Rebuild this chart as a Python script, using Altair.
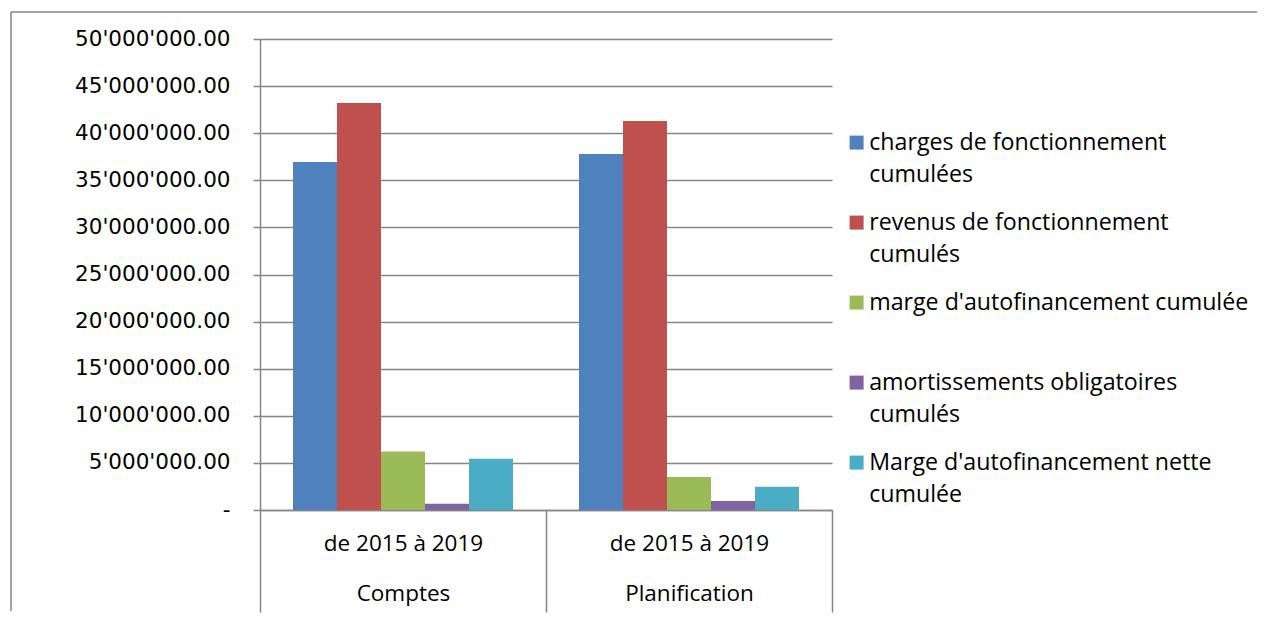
import json
import altair as alt
import pandas as pd

groups = ["Comptes", "Planification"]
period = "de 2015 à 2019"
series = [
    "charges de fonctionnement cumulées",
    "revenus de fonctionnement cumulés",
    "marge d'autofinancement cumulée",
    "amortissements obligatoires cumulés",
    "Marge d'autofinancement nette cumulée",
]
legend_lines = [
    ["charges de fonctionnement", "cumulées"],
    ["revenus de fonctionnement", "cumulés"],
    ["marge d'autofinancement cumulée", ""],
    ["amortissements obligatoires", "cumulés"],
    ["Marge d'autofinancement nette", "cumulée"],
]
comptes = [36950000, 43200000, 6200000, 670000, 5430000]
planification = [37800000, 41300000, 3500000, 950000, 2480000]
colors = ["#4F81BD", "#C0504D", "#9BBB59", "#8064A2", "#4BACC6"]
y_ticks = [0, 5000000, 10000000, 15000000, 20000000, 25000000,
           30000000, 35000000, 40000000, 45000000, 50000000]

rows = []
for g, vals in zip(groups, [comptes, planification]):
    for s, v in zip(series, vals):
        rows.append({"groupe": g, "serie": s, "valeur": v})
df = pd.DataFrame(rows)

GRAY = "#868686"

# legend label expression (multi-line)
expr = ""
for s, lines in zip(series, legend_lines):
    expr += f"datum.label == {json.dumps(s, ensure_ascii=False)} ? {json.dumps(lines, ensure_ascii=False)} : "
expr += "datum.label"

bars = alt.Chart(df).mark_bar().encode(
    x=alt.X("groupe:N", sort=groups, title=None,
            scale=alt.Scale(paddingInner=0, paddingOuter=0),
            axis=alt.Axis(
                labelExpr=f"datum.label ? [{json.dumps(period, ensure_ascii=False)}, datum.label] : ''",
                labelAngle=0, labelFont="Open Sans", labelFontSize=22.5,
                labelColor="#000000", labelLineHeight=50, labelBaseline="top",
                tickBand="extent", tickSize=102, tickColor=GRAY, tickWidth=1.5,
                labelPadding=-80, domainColor=GRAY, domainWidth=1.5, grid=False)),
    xOffset=alt.XOffset("serie:N", sort=series,
                        scale=alt.Scale(paddingInner=0, paddingOuter=0.75)),
    y=alt.Y("valeur:Q", title=None,
            scale=alt.Scale(domain=[0, 50000000], nice=False),
            axis=alt.Axis(values=y_ticks,
                          labelExpr="datum.value == 0 ? '-\u00a0\u00a0' : replace(format(datum.value, ',.2f'), regexp(',', 'g'), \"'\")",
                          labelFont="DejaVu Sans", labelFontSize=21.5, labelColor="#000000",
                          labelPadding=23, tickSize=7, tickColor=GRAY, tickWidth=1.5,
                          domainColor=GRAY, domainWidth=1.5,
                          gridColor=GRAY, gridWidth=1.5)),
    color=alt.Color("serie:N", sort=series, title=None,
                    scale=alt.Scale(domain=series, range=colors),
                    legend=alt.Legend(orient="none", legendX=585, legendY=92,
                                      symbolType="square", symbolSize=196,
                                      symbolStrokeWidth=0, labelFont="Open Sans",
                                      labelFontSize=23.2, labelColor="#000000",
                                      labelOffset=1, rowPadding=24, labelLimit=500,
                                      labelExpr=expr, padding=0)),
)

frame_data = pd.DataFrame({"k": [0]})
frame_v = alt.Chart(frame_data).mark_rule(color=GRAY, strokeWidth=1.5).encode(
    x=alt.value(-249), y=alt.value(-27), y2=alt.value(572))
frame_h = alt.Chart(frame_data).mark_rule(color=GRAY, strokeWidth=1.5).encode(
    x=alt.value(-249), x2=alt.value(997), y=alt.value(-27))

chart = alt.layer(bars, frame_v, frame_h).properties(
    width=572, height=471,
    padding={"left": 2, "top": 3, "right": 0, "bottom": 0},
).configure(
    view={"stroke": "transparent"},
    style={"guide-label": {"lineHeight": 32}},
)

chart.save("out.html", embed_options={"renderer": "svg", "actions": False})
